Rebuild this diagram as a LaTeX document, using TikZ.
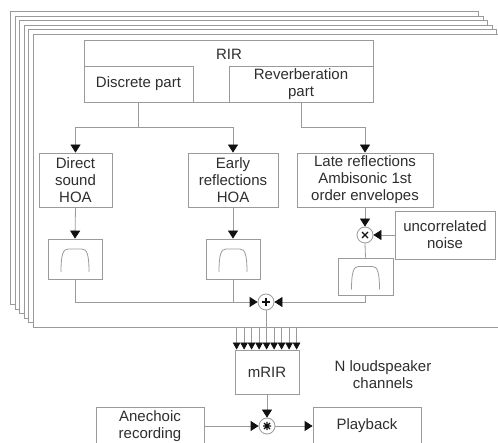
\documentclass[tikz,border=0pt]{standalone}
\usepackage{fontspec}
\setmainfont{Liberation Sans}
\usetikzlibrary{arrows.meta,calc}
\definecolor{ln}{HTML}{9A9A9A}
\definecolor{tx}{HTML}{2E2E2E}
\definecolor{tipc}{HTML}{111111}
\begin{document}
\begin{tikzpicture}[x=1pt,y=-1pt,
  box/.style={draw=ln, line width=0.8pt, fill=white, inner sep=0pt, align=center, text=tx, font=\fontsize{15}{17}\selectfont},
  txt/.style={inner sep=0pt, align=center, text=tx, font=\fontsize{15}{17}\selectfont},
  conn/.style={draw=ln, line width=0.8pt},
  arr/.style={conn, -{Triangle[width=10pt,length=8pt,color=tipc,fill=tipc]}},
  fanarr/.style={conn, -{Triangle[width=7.5pt,length=7pt,color=tipc,fill=tipc]}},
  op/.style={circle, draw=ln, line width=0.8pt, fill=white, minimum size=16pt, inner sep=0pt},
  sym/.style={draw=tipc, line width=1.2pt},
  sheet/.style={draw=ln, line width=0.8pt, fill=white}
]
\useasboundingbox (0,0) rectangle (498,443);
\clip (0,0) rectangle (498,443);
\fill[white] (0,0) rectangle (498,443);

% stacked sheets
\foreach \k in {5,4,3,2,1,0}
  \draw[sheet] (33-4.5*\k, 34-4.5*\k) rectangle (501-4.5*\k, 327-4.5*\k);

% top boxes
\node[box, minimum width=289pt, minimum height=62pt] (rir) at (228.5,71) {};
\node[txt] (rirt) at (229,54) {RIR};
\node[box, minimum width=109pt, minimum height=36pt] (disc) at (138.5,84) {Discrete part};
\node[box, minimum width=144pt, minimum height=36pt] (rev) at (301,84) {Reverberation\\part};

\node[box, minimum width=73pt, minimum height=54pt] (dir) at (75.5,180) {Direct\\sound\\HOA};
\node[box, minimum width=90pt, minimum height=54pt] (early) at (233,180) {Early\\reflections\\HOA};
\node[box, minimum width=136pt, minimum height=54pt] (late) at (365,180) {Late reflections\\Ambisonic 1st\\order envelopes};

\node[op] (mul) at (365,235) {};
\node[box, minimum width=100pt, minimum height=48pt] (noise) at (445,235) {uncorrelated\\noise};

\node[box, minimum width=54pt, minimum height=40pt] (f1) at (75,259) {};
\node[box, minimum width=54pt, minimum height=40pt] (f2) at (233,259) {};
\node[box, minimum width=55pt, minimum height=37pt] (f3) at (365.5,276.5) {};

\node[op] (sum) at (266,302) {};

\node[box, minimum width=64pt, minimum height=44pt] (mrir) at (267,372) {mRIR};
\node[op] (conv) at (267,426) {};
\node[box, minimum width=108pt, minimum height=38pt] (anech) at (150,426) {Anechoic\\recording};
\node[box, minimum width=108pt, minimum height=38pt] (play) at (367,426) {Playback};
\node[txt] (nls) at (383,375) {N loudspeaker\\channels};

% filter symbols
\foreach \n in {f1,f2,f3}{
  \begin{scope}[shift={(\n.center)}]
    \draw[conn] (-14,13) .. controls (-14,-4) and (-12,-10) .. (-7,-10) -- (7,-10) .. controls (12,-10) and (14,-4) .. (14,13);
  \end{scope}
}

% operator symbols
\begin{scope}[shift={(mul.center)}]
  \draw[sym] (-3,-3) -- (3,3) (-3,3) -- (3,-3);
\end{scope}
\begin{scope}[shift={(sum.center)}]
  \draw[sym] (-4,0) -- (4,0) (0,-4) -- (0,4);
\end{scope}
\begin{scope}[shift={(conv.center)}]
  \draw[sym] (-4,0) -- (4,0) (0,-4) -- (0,4) (-3,-3) -- (3,3) (-3,3) -- (3,-3);
\end{scope}

% connectors
\draw[arr] (disc.south) -- ++(0,25) -| (dir.north);
\draw[arr] ($(disc.south)+(0,25)$) -| (early.north);
\draw[arr] (rev.south) -- ++(0,25) -| (late.north);
\draw[arr] (dir.south) -- (f1.north);
\draw[arr] (early.south) -- (f2.north);
\draw[arr] (late.south) -- (mul.north);
\draw[arr] (noise.west) -- (mul.east);
\draw[conn] (mul.south) -- (f3.north);
\draw[arr] (f1.south) |- (sum.west);
\draw[conn] (f2.south) -- (f2.south |- sum.west);
\draw[arr] (f3.south) |- (sum.east);
\coordinate (sb) at (266,327);
\draw[conn] (sum.south) -- (sb);
\foreach \i in {0,...,8}
  \draw[fanarr] ($(mrir.north west)+(2+7.5*\i,-23)$) -- ($(mrir.north west)+(2+7.5*\i,0)$);
\draw[arr] (mrir.south) -- (conv.north);
\draw[arr] (anech.east) -- (conv.west);
\draw[arr] (conv.east) -- (play.west);
\end{tikzpicture}
\end{document}
